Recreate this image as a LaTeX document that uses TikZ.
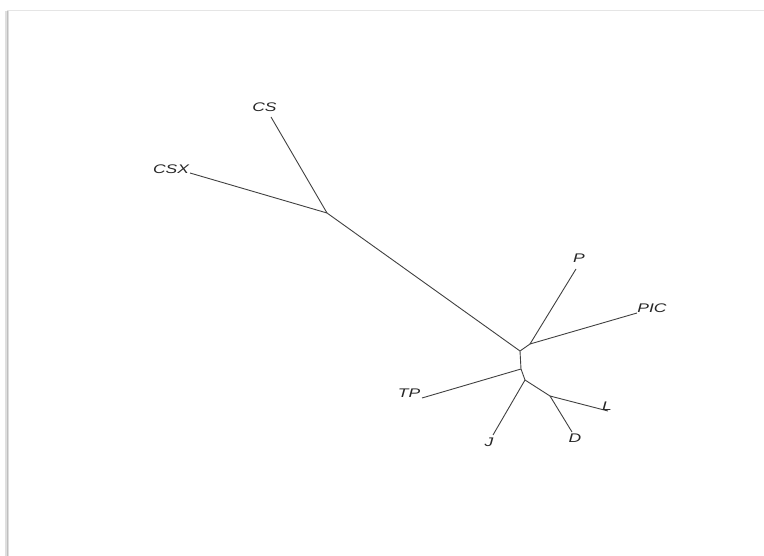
\documentclass[tikz,border=0pt]{standalone}
\usepackage{fontspec}
\usepackage{graphicx}
\setmainfont{Liberation Sans}
\begin{document}
\begin{tikzpicture}[x=1pt,y=-1pt,
  branch/.style={draw=black!75, line width=0.9pt},
  leaflabel/.style={inner sep=0pt, text=black!85, font=\fontsize{12.5}{12.5}\selectfont\itshape}]
\useasboundingbox (0,0) rectangle (764,556);
% frame shadow
\draw[gray!20, line width=1pt] (7,10.5) -- (764,10.5);
\draw[gray!25, line width=4pt] (7,11) -- (7,556);
\draw[gray!50, line width=1.6pt] (7.5,11) -- (7.5,556);
% internal points
\coordinate (a) at (327,213);
\coordinate (b) at (520,351);
\coordinate (pp) at (530,344);
\coordinate (c) at (521,369);
\coordinate (e) at (525,380);
\coordinate (f) at (550,396);
% leaf ends
\coordinate (cs) at (271,117);
\coordinate (csx) at (190,173);
\coordinate (p) at (576,269);
\coordinate (pic) at (637,313);
\coordinate (tp) at (422,398);
\coordinate (j) at (493,435);
\coordinate (l) at (608,411);
\coordinate (d) at (572,432);
% branches
\draw[branch] (cs) -- (a);
\draw[branch] (csx) -- (a);
\draw[branch] (a) -- (b);
\draw[branch] (b) -- (pp);
\draw[branch] (pp) -- (p);
\draw[branch] (pp) -- (pic);
\draw[branch] (b) -- (c);
\draw[branch] (c) -- (tp);
\draw[branch] (c) -- (e);
\draw[branch] (e) -- (j);
\draw[branch] (e) -- (f);
\draw[branch] (f) -- (l);
\draw[branch] (f) -- (d);
% labels
\node[leaflabel] (lcs) at (264.5,107) {\scalebox{1.4}[1]{CS}};
\node[leaflabel] (lcsx) at (171,169.5) {\scalebox{1.4}[1]{CSX}};
\node[leaflabel] (lp) at (579,258.5) {\scalebox{1.4}[1]{P}};
\node[leaflabel] (lpic) at (652,308) {\scalebox{1.4}[1]{PIC}};
\node[leaflabel] (ltp) at (409,393) {\scalebox{1.4}[1]{TP}};
\node[leaflabel] (lj) at (489,442) {\scalebox{1.4}[1]{J}};
\node[leaflabel] (ld) at (575,438) {\scalebox{1.4}[1]{D}};
\node[leaflabel] (ll) at (607,406.5) {\scalebox{1.4}[1]{L}};
\end{tikzpicture}
\end{document}
